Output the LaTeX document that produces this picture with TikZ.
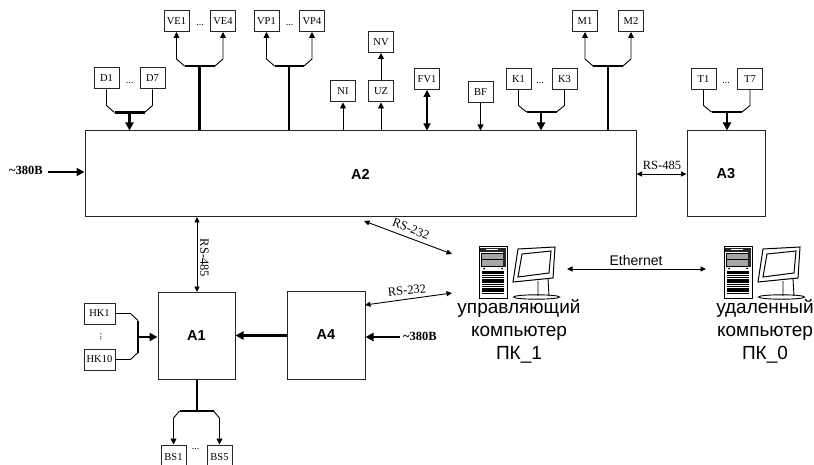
\documentclass[tikz,border=0pt]{standalone}
\usepackage{fontspec}
\setmainfont{Liberation Serif}
\newfontfamily\arialf{Liberation Sans}
\usetikzlibrary{arrows.meta,calc}
\tikzset{
  box/.style={draw=black!85,line width=1pt,fill=white,inner sep=0pt,minimum width=25pt,minimum height=21pt,font=\fontsize{10.5}{11}\selectfont},
  hkbox/.style={box,minimum width=31pt},
  block/.style={draw=black!85,line width=1pt,inner sep=0pt,font=\arialf\bfseries\fontsize{14.5}{15}\selectfont},
  lbl/.style={inner sep=0pt,font=\fontsize{12.5}{13}\selectfont},
  vlbl/.style={inner sep=0pt,font=\bfseries\fontsize{12.5}{13}\selectfont},
  pclbl/.style={inner sep=0pt,align=center,font=\arialf\fontsize{19}{23}\selectfont},
  dots/.style={inner sep=0pt,font=\fontsize{10}{10}\selectfont},
  thin line/.style={line width=.9pt,draw=black},
  bus/.style={line width=2.2pt,draw=black},
  stem/.style={line width=2.3pt,draw=black},
  tip/.style={-{Triangle[length=6pt,width=6pt]}},
  bigtip/.style={-{Triangle[length=8pt,width=8pt]}},
  dbl/.style={{Triangle[length=5.5pt,width=5pt]}-{Triangle[length=5.5pt,width=5pt]}},
  bigdbl/.style={{Triangle[length=7pt,width=7pt]}-{Triangle[length=7pt,width=7pt]}},
  pc/.pic={
    % tower
    \draw[line width=1pt,fill=white] (0,0) rectangle (28,51);
    \fill[black!85] (1,1) rectangle (27,5);
    \fill[white] (7,2) rectangle (19,3.2);
    \fill[black!35] (2,6) rectangle (24,19);
    \draw[line width=.7pt] (2,6) rectangle (24,19) (2,12) -- (24,12);
    \fill[black!85] (24,5) rectangle (27,20);
    \fill[black] (5,21.5) circle (1) (23,21.5) circle (1);
    \foreach \yy in {25,26.8,...,48} \draw[line width=1.1pt] (3,\yy) -- (25,\yy);
    % monitor
    \draw[line width=1pt,fill=white] (39,2) -- (76,0) -- (74,31) -- (34,35) -- cycle;
    \draw[line width=1pt,fill=white] (43,7) -- (72,4) -- (70,26) -- (39,30) -- cycle;
    \draw[line width=.9pt] (59,34) -- (59,49) (69,32) -- (70,49);
    \draw[line width=.9pt] (57.5,50) ellipse [x radius=23,y radius=2.2];
  }
}
\begin{document}
\begin{tikzpicture}[x=1pt,y=-1pt]
\useasboundingbox (0,0) rectangle (814,465);
% blocks
\node[block,minimum width=551pt,minimum height=86pt] (A2) at (360.5,174) {A2};
\node[block,minimum width=78pt,minimum height=86pt] (A3) at (726,174) {A3};
\node[block,minimum width=77pt,minimum height=87pt] (A1) at (196.5,335.5) {A1};
\node[block,minimum width=78pt,minimum height=88pt] (A4) at (326,335) {A4};
% top boxes
\node[box] (D1) at (106.5,78.5) {D1};
\node[box] (D7) at (152.5,78.5) {D7};
\node[dots] (d1) at (129.5,83) {...};
\node[box] (VE1) at (176.5,21) {VE1};
\node[box] (VE4) at (223,21) {VE4};
\node[dots] (d2) at (200,25) {...};
\node[box] (VP1) at (266.5,21) {VP1};
\node[box] (VP4) at (312,21) {VP4};
\node[dots] (d3) at (289.5,25) {...};
\node[box] (NI) at (343,91.5) {NI};
\node[box] (UZ) at (381,91.5) {UZ};
\node[box] (NV) at (381,42) {NV};
\node[box] (FV1) at (427,79) {FV1};
\node[box] (BF) at (480.5,92) {BF};
\node[box] (K1) at (518.5,79) {K1};
\node[box] (K3) at (564.5,79) {K3};
\node[dots] (d4) at (540,83) {...};
\node[box] (M1) at (585,21) {M1};
\node[box] (M2) at (631,21) {M2};
\node[box] (T1) at (703.5,79) {T1};
\node[box] (T7) at (750,79) {T7};
\node[dots] (d5) at (726,83) {...};
% bottom boxes
\node[hkbox] (HK1) at (99.5,313.5) {HK1};
\node[hkbox] (HK10) at (99.5,359.5) {HK10};
\node[dots,rotate=90] (d6) at (101,337) {...};
\node[box,minimum height=24pt] (BS1) at (173.5,457) {BS1};
\node[box,minimum height=24pt] (BS5) at (219.5,457) {BS5};
\node[dots] (d7) at (195.5,449) {...};
% fork D1..D7 -> A2
\coordinate (jD) at (129.5,112);
\draw[thin line] (D1.south) -- ++(0,16) -- ++(8,7);
\draw[thin line] (D7.south) -- ++(0,16) -- ++(-8,7);
\draw[bus] ($(D1.south)+(8,23)$) -- ($(D7.south)+(-8,23)$);
\draw[stem,bigtip] (jD) -- (jD |- A2.north);
% fork VE
\coordinate (jVE) at (199.5,66);
\draw[thin line,tip] (jVE -| VE1) ++(8,0) -- ++(-8,-7) -- (VE1.south);
\draw[thin line,tip] (jVE -| VE4) ++(-8,0) -- ++(8,-7) -- (VE4.south);
\draw[bus] ($(jVE -| VE1)+(8,0)$) -- ($(jVE -| VE4)+(-8,0)$);
\draw[stem] (jVE) -- (jVE |- A2.north);
% fork VP
\coordinate (jVP) at (289,66);
\draw[thin line,tip] (jVP -| VP1) ++(8,0) -- ++(-8,-7) -- (VP1.south);
\draw[thin line,tip] (jVP -| VP4) ++(-8,0) -- ++(8,-7) -- (VP4.south);
\draw[bus] ($(jVP -| VP1)+(8,0)$) -- ($(jVP -| VP4)+(-8,0)$);
\draw[stem] (jVP) -- (jVP |- A2.north);
% single links
\draw[thin line,tip] (NI |- A2.north) -- (NI.south);
\draw[thin line,tip] (UZ |- A2.north) -- (UZ.south);
\draw[thin line,tip] (UZ.north) -- (NV.south);
\draw[line width=1.3pt,bigdbl] (FV1.south) -- (FV1 |- A2.north);
\draw[thin line,tip] (BF.south) -- (BF |- A2.north);
% fork K
\coordinate (jK) at (541,112);
\draw[thin line] (K1.south) -- ++(0,15.5) -- ++(8,6.5);
\draw[thin line] (K3.south) -- ++(0,15.5) -- ++(-8,6.5);
\draw[bus] ($(K1.south)+(8,22)$) -- ($(K3.south)+(-8,22)$);
\draw[stem,bigtip] (jK) -- (jK |- A2.north);
% fork M
\coordinate (jM) at (608,66);
\draw[thin line,tip] (jM -| M1) ++(8,0) -- ++(-8,-7) -- (M1.south);
\draw[thin line,tip] (jM -| M2) ++(-8,0) -- ++(8,-7) -- (M2.south);
\draw[bus] ($(jM -| M1)+(8,0)$) -- ($(jM -| M2)+(-8,0)$);
\draw[stem] (jM) -- (jM |- A2.north);
% fork T
\coordinate (jT) at (727,112);
\draw[thin line] (T1.south) -- ++(0,15.5) -- ++(8,6.5);
\draw[thin line] (T7.south) -- ++(0,15.5) -- ++(-8,6.5);
\draw[bus] ($(T1.south)+(8,22)$) -- ($(T7.south)+(-8,22)$);
\draw[stem,bigtip] (jT) -- (jT |- A3.north);
% fork HK
\coordinate (jH) at (137.5,337);
\draw[thin line] (HK1.east) -- ++(15,0) -- ++(7.5,7);
\draw[thin line] (HK10.east) -- ++(15,0) -- ++(7.5,-7);
\draw[bus] ($(HK1.east)+(22.5,7)$) -- ($(HK10.east)+(22.5,-7)$);
\draw[stem,bigtip] (jH) -- (jH -| A1.west);
% fork BS
\coordinate (jB) at (197,411);
\draw[thin line,tip] (jB -| BS1) ++(6,0) -- ++(-6,7) -- (BS1.north);
\draw[thin line,tip] (jB -| BS5) ++(-6,0) -- ++(6,7) -- (BS5.north);
\draw[bus] ($(jB -| BS1)+(6,0)$) -- ($(jB -| BS5)+(-6,0)$);
\draw[stem] (jB) -- (jB |- A1.south);
% A-links
\draw[stem,bigtip] (A4.west |- A1.center) -- (A1.east);
\coordinate (vA4) at (400,337);
\draw[stem,bigtip] (vA4) -- (vA4 -| A4.east);
\node[vlbl] (v2) at (420,336) {\textasciitilde380В};
\coordinate (vA2) at (48,172);
\draw[stem,bigtip] (vA2) -- (vA2 -| A2.west);
\node[vlbl] (v1) at (26,170.5) {\textasciitilde380В};
\draw[thin line,dbl] (A2.east |- A3.west) -- (A3.west);
\node[lbl] (r1) at (662,165) {RS-485};
\draw[thin line,dbl] (197,217) -- (197,292);
\node[lbl,rotate=-90] (r2) at (204.5,258) {RS-485};
% computers
\pic (pc1) at (479,247) {pc};
\pic (pc0) at (724,247) {pc};
\coordinate (c1a) at (452,254);
\coordinate (c1b) at (452,293);
\coordinate (a2s) at (364,221);
\coordinate (a4e) at (365,305);
\draw[thin line,dbl] (a2s) -- (c1a);
\draw[thin line,dbl] (a4e) -- (c1b);
\node[lbl,rotate=-21] (r3) at (411,229) {RS-232};
\node[lbl,rotate=6] (r4) at (407,290.5) {RS-232};
\coordinate (e1) at (567,269);
\coordinate (e2) at (706,269);
\draw[thin line,dbl] (e1) -- (e2);
\node[inner sep=0pt,font=\arialf\fontsize{14}{15}\selectfont] (eth) at (636,260) {Ethernet};
\node[pclbl] (l1) at (519,331) {управляющий\\компьютер\\ПК\_1};
\node[pclbl] (l0) at (765,331) {удаленный\\компьютер\\ПК\_0};
\end{tikzpicture}
\end{document}
